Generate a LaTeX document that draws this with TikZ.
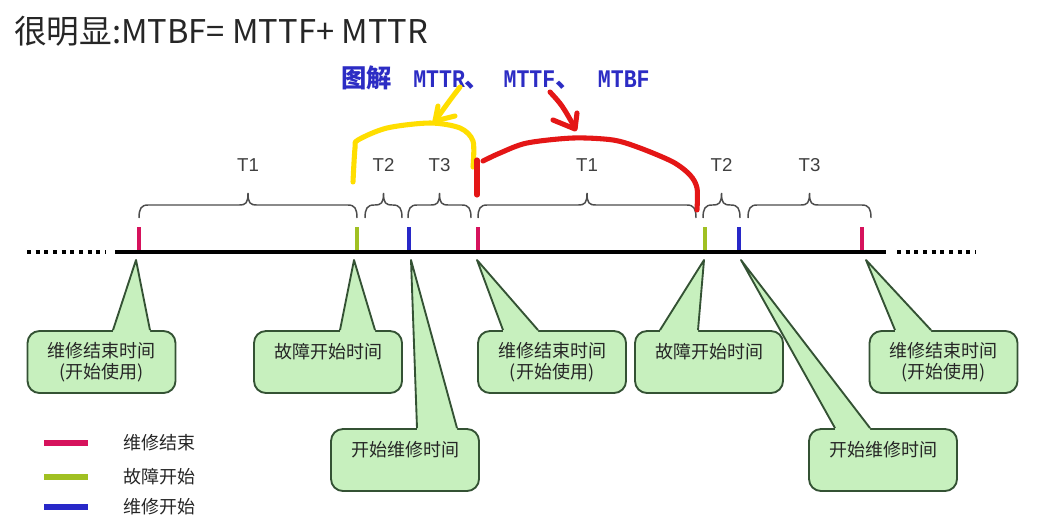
\documentclass[tikz,border=0pt]{standalone}
\usepackage{fontspec}
\setmainfont{Noto Sans CJK SC}
\newfontfamily\latinsans{Liberation Sans}
\newfontfamily\latinmono{Liberation Mono}[FakeStretch=0.85]
\usepackage{tikz}
\usetikzlibrary{calc}

\definecolor{repairend}{RGB}{214,18,92}
\definecolor{failstart}{RGB}{160,192,34}
\definecolor{repairstart}{RGB}{40,40,200}
\definecolor{calloutgreen}{RGB}{199,240,190}
\definecolor{calloutedge}{RGB}{52,82,52}
\definecolor{penyellow}{RGB}{255,222,0}
\definecolor{penred}{RGB}{228,22,22}
\definecolor{titleblue}{RGB}{44,44,196}

\begin{document}
\begin{tikzpicture}[x=0.75pt, y=-0.75pt,
    every node/.style={inner sep=0pt, text=black!85},
    tick/.style={line width=2.3pt},
    timeline/.style={line width=3.4pt, black},
    dots/.style={line width=3.4pt, black, dash pattern=on 3pt off 3.5pt},
    tbrace/.style={line width=1.1pt, black!70},
    tlabel/.style={font=\latinsans\fontsize{14}{16}\selectfont, text=black!75},
    callbox/.style={draw=calloutedge, fill=calloutgreen, line width=1.4pt, rounded corners=9pt,
        minimum width=111pt, minimum height=46.5pt, align=center, font=\fontsize{13.5}{16}\selectfont},
    callfill/.style={fill=calloutgreen},
    calledge/.style={draw=calloutedge, line width=1.4pt, line join=round},
    legline/.style={line width=3.8pt},
    legtext/.style={font=\fontsize{13.5}{16}\selectfont, anchor=west},
    pen/.style={line width=3.8pt, line cap=round, line join=round}
]
\fill[white] (0,0) rectangle (1062,529);
\useasboundingbox (0,0) rectangle (1062,529);

\node[anchor=west, font=\fontsize{24.5}{28}\selectfont] (title) at (14,31) {很明显:MTBF= MTTF+ MTTR};
\node[anchor=west, text=titleblue, font=\fontsize{19}{22}\selectfont\bfseries] (subtitle) at (341,78)
    {图解\hspace{16pt}{\latinmono\bfseries MTTR}、\hspace{10pt}%
     {\latinmono\bfseries MTTF}、\hspace{13pt}{\latinmono\bfseries MTBF}};

% ticks on the time line
\foreach \x/\c/\tx [count=\i] in {139/repairend/136, 357/failstart/354, 409/repairstart/411,
    478/repairend/477, 705/failstart/704, 739/repairstart/741, 862/repairend/866} {
  \draw[tick, \c] (\x,227) -- (\x,252);
  \coordinate (k\i) at (\tx,260);
}
\draw[timeline] (115,252) -- (886,252);
\draw[dots] (27,252) -- (106,252);
\draw[dots] (897,252) -- (976,252);

% braces
\foreach \a/\b/\t [count=\i] in {139/357/T1, 365/402/T2, 408/471/T3, 478/696/T1, 703/740/T2, 748/871/T3} {
  \pgfmathsetmacro\m{(\a+\b)/2}
  \draw[tbrace] (\a,218) .. controls (\a,209) and (\a+2,205) .. (\a+9,205) -- (\m-9,205)
      .. controls (\m-2,205) and (\m,203) .. (\m,193) .. controls (\m,203) and (\m+2,205) .. (\m+9,205)
      -- (\b-9,205) .. controls (\b-2,205) and (\b,209) .. (\b,218);
  \node[tlabel] (lab\i) at (\m,165) {\t};
}

% callouts
\node[callbox] (c1) at (101.5,362) {维修结束时间\\(开始使用)};
\node[callbox] (c2) at (328,362) {故障开始时间\\\mbox{}};
\node[callbox] (c3) at (405,460) {开始维修时间\\\mbox{}};
\node[callbox] (c4) at (552,362) {维修结束时间\\(开始使用)};
\node[callbox] (c5) at (709,362) {故障开始时间\\\mbox{}};
\node[callbox] (c6) at (883,460) {开始维修时间\\\mbox{}};
\node[callbox] (c7) at (943.5,362) {维修结束时间\\(开始使用)};

\foreach \b/\t/\l/\r in {c1/k1/113/150, c2/k2/340/375, c3/k3/417/457, c4/k4/503/538,
    c5/k5/660/698, c6/k6/835/870, c7/k7/895/931} {
  \fill[callfill] (\l,0 |- \b.north) -- (\t) -- (\r,0 |- \b.north) -- ($(\r,0 |- \b.north)+(0,4)$)
      -- ($(\l,0 |- \b.north)+(0,4)$) -- cycle;
  \draw[calledge] (\l,0 |- \b.north) -- (\t) -- (\r,0 |- \b.north);
}

% legend
\foreach \y/\c/\t [count=\i] in {443/repairend/维修结束, 477/failstart/故障开始, 507/repairstart/维修开始} {
  \draw[legline, \c] (44,\y) -- (88,\y);
  \node[legtext] (leg\i) at (123,\y) {\t};
}

% hand drawn marks
\draw[pen, penyellow] plot[smooth, tension=0.5] coordinates {(353,182) (355,148) (358,140) (387,128)
    (430,123) (460,128) (473,141) (473,167)};
\draw[pen, penyellow] (460,87) .. controls (450,100) .. (435,121);
\draw[pen, penyellow] (438,106) -- (435,121) -- (455,116);
\draw[pen, penred] (477,160) -- (477,195);
\draw[pen, penred] plot[smooth, tension=0.5] coordinates {(483,161) (500,153) (527,143) (573,138)
    (613,140) (640,148) (673,162) (690,175) (697,188) (697,210)};
\draw[pen, penred] (550,92) .. controls (562,105) .. (575,128);
\draw[pen, penred] (553,120) -- (575,129) -- (577,113);
\end{tikzpicture}
\end{document}
